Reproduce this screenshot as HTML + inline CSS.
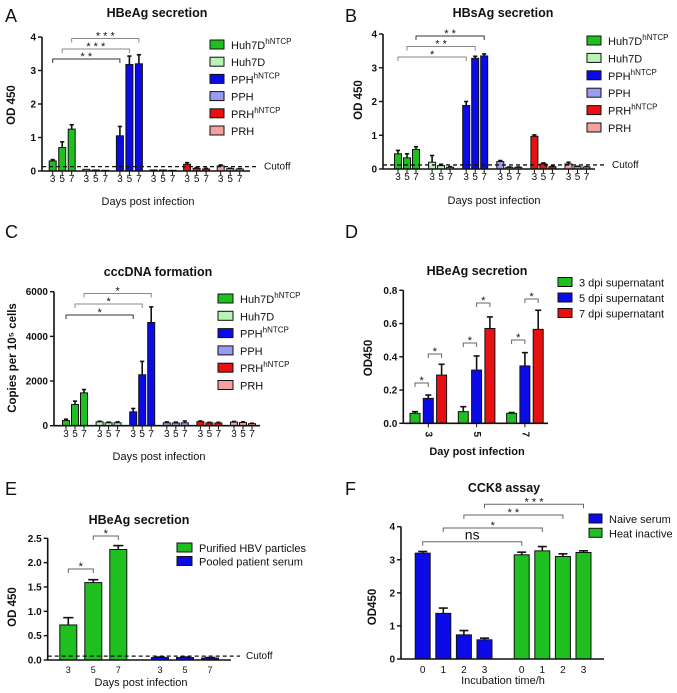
<!DOCTYPE html>
<html><head><meta charset="utf-8">
<style>
html,body{margin:0;padding:0;background:#fff;}
svg{display:block;font-family:"Liberation Sans",Arial,sans-serif;}
</style></head>
<body>
<svg id="fig" width="677" height="693" viewBox="0 0 677 693" xmlns="http://www.w3.org/2000/svg"></svg>
<script>
// ---- Panel A data (HBeAg secretion) ----
const aHuh7DhNTCP = [0.30, 0.70, 1.25];
const aHuh7D      = [0.05, 0.03, 0.02];
const aPPHhNTCP   = [1.05, 3.18, 3.20];
const aPPH        = [0.03, 0.03, 0.02];
const aPRHhNTCP   = [0.20, 0.08, 0.06];
const aPRH        = [0.15, 0.07, 0.06];
const aErrG = [0.04, 0.17, 0.13];
const aErrB = [0.28, 0.25, 0.27];
const aCutoff = 0.13;
// ---- Panel B data (HBsAg secretion) ----
const bHuh7DhNTCP = [0.45, 0.33, 0.58];
const bHuh7D      = [0.20, 0.10, 0.05];
const bPPHhNTCP   = [1.88, 3.28, 3.35];
const bPPH        = [0.22, 0.05, 0.05];
const bPRHhNTCP   = [0.97, 0.15, 0.07];
const bPRH        = [0.15, 0.07, 0.06];
const bErrG = [0.1, 0.12, 0.08];
const bErrHuh = [0.2, 0.04, 0.02];
const bErrB = [0.12, 0.06, 0.06];
const bCutoff = 0.12;
// ---- Panel C data (cccDNA) ----
const cHuh7DhNTCP = [230, 950, 1470];
const cHuh7D      = [170, 130, 130];
const cPPHhNTCP   = [620, 2280, 4620];
const cPPH        = [130, 120, 130];
const cPRHhNTCP   = [180, 130, 120];
const cPRH        = [160, 140, 90];
const cErrG = [60, 150, 150];
const cErrB = [150, 600, 700];
// ---- Panel D data ----
const dDays = ["3","5","7"];
const d3dpi = [0.06, 0.07, 0.06];
const d5dpi = [0.15, 0.32, 0.345];
const d7dpi = [0.29, 0.57, 0.565];
const dErr3 = [0.01, 0.03, 0.005];
const dErr5 = [0.02, 0.085, 0.08];
const dErr7 = [0.065, 0.07, 0.115];
// ---- Panel E data ----
const eDays = ["3","5","7"];
const ePurified = [0.72, 1.59, 2.27];
const ePooled   = [0.05, 0.05, 0.04];
const eErrP = [0.15, 0.06, 0.08];
const eCutoff = 0.08;
// ---- Panel F data ----
const fTimes = ["0","1","2","3"];
const fNaive = [3.20, 1.38, 0.73, 0.58];
const fHeat  = [3.15, 3.27, 3.10, 3.22];
const fErrN = [0.05, 0.16, 0.13, 0.05];
const fErrH = [0.08, 0.13, 0.08, 0.05];
// tick labels
const odTicks4 = [0,1,2,3,4];
const cTicks = [0,2000,4000,6000];
const dTicks = ["0.0","0.2","0.4","0.6","0.8"];
const eTicks = ["0.0","0.5","1.0","1.5","2.0","2.5"];

const COL = {g:"#1fbf1f", lg:"#b6f5b6", b:"#0b0be8", lb:"#9b9bf2", r:"#e81010", p:"#f2a0a0"};
const NS = "http://www.w3.org/2000/svg";
const svg = document.getElementById('fig');
function el(tag, attrs, parent, text){
  const e = document.createElementNS(NS, tag);
  for (const k in attrs) e.setAttribute(k, attrs[k]);
  if (text !== undefined) e.textContent = text;
  (parent || svg).appendChild(e);
  return e;
}
function txt(x,y,s,size,opts,parent){
  const t = el('text', Object.assign({x:x,y:y,'font-size':size,'text-anchor':'middle',fill:'#111'}, opts||{}), parent, s);
  return t;
}

function panel(cfg){
  const g = el('g', {});
  
  
  const ys = v => cfg.y0 - (v / cfg.ymax) * (cfg.y0 - cfg.yTop);
  const xs = (gi, bi) => cfg.gStart + gi*cfg.gStep + bi*cfg.bStep;
  // bars
  cfg.series.forEach((s, si) => {
    s.vals.forEach((v, k) => {
      const gi = cfg.byGroup ? si : k;
      const bi = cfg.byGroup ? k : si;
      const cx = xs(gi, bi);
      const y = ys(v);
      const r = el('rect', {x:cx-cfg.bw/2, y:y, width:cfg.bw, height:Math.max(cfg.y0-y,0.5), fill:s.color, stroke:'#111', 'stroke-width':1}, g);
      
      
      if (s.errs){
        const ye = ys(v + s.errs[k]);
        el('line', {x1:cx, x2:cx, y1:y, y2:ye, stroke:'#111','stroke-width':1.6}, g);
        el('line', {x1:cx-cfg.bw*0.3, x2:cx+cfg.bw*0.3, y1:ye, y2:ye, stroke:'#111','stroke-width':1.6}, g);
      }
      if (cfg.xTickEach){
        el('line', {x1:cx,x2:cx,y1:cfg.y0,y2:cfg.y0+4,stroke:'#111','stroke-width':1}, g);
      }
      if (cfg.xLabels){
        const lab = cfg.xLabels[bi % cfg.xLabels.length];
        const lx = cx + (cfg.xLabelDx||0);
        if (cfg.rotateLabels){
          if (si===1 || (!cfg.byGroup && false)) {}
        } else {
          txt(lx, cfg.xLabelY, lab, cfg.xLabelSize||10, {}, g);
        }
      }
    });
  });
  if (cfg.rotateLabels){
    cfg.rotateLabels.forEach((lab, gi) => {
      const cx = xs(gi, 1);
      el('line', {x1:cx,x2:cx,y1:cfg.y0,y2:cfg.y0+4,stroke:'#111','stroke-width':1}, g);
      txt(cx, cfg.y0+11, lab, 10, {'font-weight':'bold', transform:`rotate(90 ${cx} ${cfg.y0+11})`, 'dominant-baseline':'middle'}, g);
    });
  }
  // axes
  el('line', {x1:cfg.x0, x2:cfg.x0, y1:cfg.yTop, y2:cfg.y0, stroke:'#111','stroke-width':1.6}, g);
  el('line', {x1:cfg.x0, x2:cfg.xEnd, y1:cfg.y0, y2:cfg.y0, stroke:'#111','stroke-width':1.6}, g);
  cfg.ticks.forEach((t, i) => {
    const v = cfg.tickVals[i];
    const y = ys(v);
    el('line', {x1:cfg.x0-4, x2:cfg.x0, y1:y, y2:y, stroke:'#111','stroke-width':1.4}, g);
    txt(cfg.x0-6, y+3.5, String(t), 10, {'text-anchor':'end','font-weight':'bold'}, g);
  });
  // cutoff
  if (cfg.cutoff !== undefined){
    const y = ys(cfg.cutoff);
    const l = el('line', {x1:cfg.x0, x2:cfg.cutEnd, y1:y, y2:y, stroke:'#111','stroke-width':1.3,'stroke-dasharray':'4,3'}, g);
    
    
    txt(cfg.cutTextX, y+3, 'Cutoff', 10, {'text-anchor':'start'}, g);
  }
  // brackets
  (cfg.brackets||[]).forEach(b => {
    const x1 = xs(b[0][0], b[0][1]), x2 = xs(b[1][0], b[1][1]);
    const c = b[4] || '#666';
    el('path', {d:`M${x1},${b[2]+4} V${b[2]} H${x2} V${b[2]+4}`, fill:'none', stroke:c,'stroke-width':1}, g);
    txt((x1+x2)/2, b[2] - (b[3]==='ns' ? 2 : -1), b[3], b[3]==='ns'?14:11, {}, g);
  });
  // titles
  txt(cfg.titleX, cfg.titleY, cfg.title, 12.5, {'font-weight':'bold'}, g);
  txt(cfg.yTitleX, cfg.yTitleY, cfg.yTitle, 11.5, {'font-weight':'bold', transform:`rotate(-90 ${cfg.yTitleX} ${cfg.yTitleY})`}, g);
  txt(cfg.xTitleX, cfg.xTitleY, cfg.xTitle, 11, cfg.xTitleBold?{'font-weight':'bold'}:{}, g);
  txt(cfg.letterX, cfg.letterY, cfg.letter, 18, {'text-anchor':'start'}, g);
  // legend
  cfg.legend.forEach((L, i) => {
    const y = cfg.legY + i*cfg.legStep;
    const r = el('rect', {x:cfg.legX, y:y-5, width:cfg.legW, height:9, fill:L[1], stroke:'#111','stroke-width':1}, g);
    
    
    const t = el('text', {x:cfg.legX+cfg.legW+7, y:y+4, 'font-size':11, fill:'#111'}, g);
    
    
    el('tspan', {}, t, L[0]);
    if (L[2]) el('tspan', {'font-size':8, dy:-5}, t, L[2]);
  });
}

const legend6 = [["Huh7D",COL.g,"hNTCP"],["Huh7D",COL.lg],["PPH",COL.b,"hNTCP"],["PPH",COL.lb],["PRH",COL.r,"hNTCP"],["PRH",COL.p]];

panel({name:'panel-a-hbeag', letter:'A', letterX:5, letterY:22,
  x0:42, xEnd:250, y0:171, yTop:37, ymax:4, ticks:odTicks4, tickVals:odTicks4,
  byGroup:true, gStart:52.7, gStep:33.6, bStep:9.5, bw:7, xTickEach:true,
  xLabels:["3","5","7"], xLabelY:182,
  series:[{key:'huh7d-hntcp',vals:aHuh7DhNTCP,errs:aErrG,color:COL.g},{key:'huh7d',vals:aHuh7D,color:COL.lg},
          {key:'pph-hntcp',vals:aPPHhNTCP,errs:aErrB,color:COL.b},{key:'pph',vals:aPPH,color:COL.lb},
          {key:'prh-hntcp',vals:aPRHhNTCP,errs:[0.05,0.02,0.02],color:COL.r},{key:'prh',vals:aPRH,errs:[0.03,0.01,0.01],color:COL.p}],
  cutoff:aCutoff, cutEnd:256, cutTextX:264,
  brackets:[[[0,0],[2,0],59,'* *',"#333"],[[0,1],[2,1],49,'* * *',"#888"],[[0,2],[2,2],38.5,'* * *',"#888"]],
  title:'HBeAg secretion', titleX:157, titleY:17, yTitle:'OD 450', yTitleX:15, yTitleY:105,
  xTitle:'Days post infection', xTitleX:148, xTitleY:205,
  legend:legend6, legX:210, legY:45, legStep:17.2, legW:14});

panel({name:'panel-b-hbsag', letter:'B', letterX:345, letterY:22,
  x0:383, xEnd:595, y0:169, yTop:34, ymax:4, ticks:odTicks4, tickVals:odTicks4,
  byGroup:true, gStart:398, gStep:34.1, bStep:9, bw:7, xTickEach:true,
  xLabels:["3","5","7"], xLabelY:180,
  series:[{key:'huh7d-hntcp',vals:bHuh7DhNTCP,errs:bErrG,color:COL.g},{key:'huh7d',vals:bHuh7D,errs:bErrHuh,color:COL.lg},
          {key:'pph-hntcp',vals:bPPHhNTCP,errs:bErrB,color:COL.b},{key:'pph',vals:bPPH,errs:[0.03,0.01,0.01],color:COL.lb},
          {key:'prh-hntcp',vals:bPRHhNTCP,errs:[0.04,0.03,0.01],color:COL.r},{key:'prh',vals:bPRH,errs:[0.05,0.01,0.01],color:COL.p}],
  cutoff:bCutoff, cutEnd:605, cutTextX:612,
  brackets:[[[0,0],[2,0],57,'*',"#888"],[[0,1],[2,1],46.5,'* *',"#888"],[[0,2],[2,2],36,'* *',"#333"]],
  title:'HBsAg secretion', titleX:503, titleY:17, yTitle:'OD 450', yTitleX:362, yTitleY:100,
  xTitle:'Days post infection', xTitleX:494, xTitleY:204,
  legend:legend6, legX:587, legY:41, legStep:17.4, legW:14});

panel({name:'panel-c-cccdna', letter:'C', letterX:5, letterY:238,
  x0:54, xEnd:260, y0:425.7, yTop:291.7, ymax:6000, ticks:cTicks, tickVals:cTicks,
  byGroup:true, gStart:66, gStep:33.6, bStep:9, bw:7, xTickEach:true,
  xLabels:["3","5","7"], xLabelY:437,
  series:[{key:'huh7d-hntcp',vals:cHuh7DhNTCP,errs:cErrG,color:COL.g},{key:'huh7d',vals:cHuh7D,errs:[30,30,40],color:COL.lg},
          {key:'pph-hntcp',vals:cPPHhNTCP,errs:cErrB,color:COL.b},{key:'pph',vals:cPPH,errs:[40,40,80],color:COL.lb},
          {key:'prh-hntcp',vals:cPRHhNTCP,errs:[30,20,30],color:COL.r},{key:'prh',vals:cPRH,errs:[30,30,20],color:COL.p}],
  brackets:[[[0,0],[2,0],315,'*',"#333"],[[0,1],[2,1],304,'*',"#888"],[[0,2],[2,2],293.5,'*',"#888"]],
  title:'cccDNA formation', titleX:158, titleY:276, yTitle:'Copies per 10\u2075 cells', yTitleX:16, yTitleY:358,
  xTitle:'Days post infection', xTitleX:159, xTitleY:460,
  legend:legend6, legX:218, legY:299, legStep:17.3, legW:15});

panel({name:'panel-d-hbeag', letter:'D', letterX:345, letterY:238,
  x0:403.3, xEnd:548, y0:423.3, yTop:290.3, ymax:0.8, ticks:dTicks, tickVals:[0,0.2,0.4,0.6,0.8],
  byGroup:false, gStart:415, gStep:48.3, bStep:13.3, bw:10,
  rotateLabels:dDays,
  series:[{key:'dpi3',vals:d3dpi,errs:dErr3,color:COL.g},{key:'dpi5',vals:d5dpi,errs:dErr5,color:COL.b},{key:'dpi7',vals:d7dpi,errs:dErr7,color:COL.r}],
  brackets:[[[0,0],[0,1],383,'*'],[[0,1],[0,2],354,'*'],[[1,0],[1,1],343,'*'],[[1,1],[1,2],303,'*'],[[2,0],[2,1],340,'*'],[[2,1],[2,2],299,'*']],
  title:'HBeAg secretion', titleX:477, titleY:275, yTitle:'OD450', yTitleX:372, yTitleY:358,
  xTitle:'Day post infection', xTitleX:477, xTitleY:455, xTitleBold:true,
  legend:[["3 dpi supernatant",COL.g],["5 dpi supernatant",COL.b],["7 dpi supernatant",COL.r]],
  legX:558, legY:282.5, legStep:15.5, legW:14});

panel({name:'panel-e-hbeag', letter:'E', letterX:5, letterY:495,
  x0:47.7, xEnd:231, y0:660, yTop:538.3, ymax:2.5, ticks:eTicks, tickVals:[0,0.5,1,1.5,2,2.5],
  byGroup:true, gStart:68.3, gStep:91.7, bStep:25, bw:17,
  xLabels:eDays, xLabelY:673, xLabelSize:9,
  series:[{key:'purified',vals:ePurified,errs:eErrP,color:COL.g},{key:'pooled',vals:ePooled,errs:[0.01,0.01,0.01],color:COL.b}],
  cutoff:eCutoff, cutEnd:240, cutTextX:246,
  brackets:[[[0,0],[0,1],569,'*'],[[0,1],[0,2],536,'*']],
  title:'HBeAg secretion', titleX:139, titleY:524, yTitle:'OD 450', yTitleX:16, yTitleY:607,
  xTitle:'Days post infection', xTitleX:141, xTitleY:686,
  legend:[["Purified HBV particles",COL.g],["Pooled patient serum",COL.b]],
  legX:177, legY:548, legStep:13.5, legW:15});

panel({name:'panel-f-cck8', letter:'F', letterX:345, letterY:495,
  x0:401, xEnd:604, y0:659, yTop:526.7, ymax:4, ticks:odTicks4, tickVals:odTicks4,
  byGroup:true, gStart:422.7, gStep:99, bStep:20.6, bw:15,
  xLabels:fTimes, xLabelY:673,
  series:[{key:'naive',vals:fNaive,errs:fErrN,color:COL.b},{key:'heat',vals:fHeat,errs:fErrH,color:COL.g}],
  brackets:[[[0,0],[1,0],541.7,'ns'],[[0,1],[1,1],528,'*'],[[0,2],[1,2],515,'* *'],[[0,3],[1,3],504.3,'* * *']],
  title:'CCK8 assay', titleX:504, titleY:492, yTitle:'OD450', yTitleX:376, yTitleY:607,
  xTitle:'Incubation time/h', xTitleX:503, xTitleY:684,
  legend:[["Naive serum",COL.b],["Heat inactive",COL.g]],
  legX:589, legY:519, legStep:14.3, legW:13});
</script>
</body></html>
